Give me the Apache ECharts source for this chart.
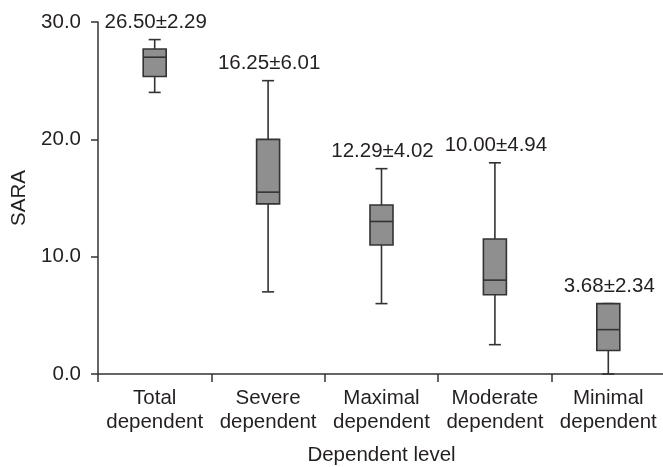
<!DOCTYPE html>
<html>
<head>
<meta charset="utf-8">
<script src="https://cdn.jsdelivr.net/npm/echarts@6/dist/echarts.min.js"></script>
<style>
html,body{margin:0;padding:0;background:#fff;}
#chart{width:663px;height:467px;}
</style>
</head>
<body>
<div id="chart"></div>
<script>
var categories = ['Total\ndependent', 'Severe\ndependent', 'Maximal\ndependent', 'Moderate\ndependent', 'Minimal\ndependent'];
var whiskerLow  = [24.0, 7.0, 6.0, 2.5, 0.0];
var q1          = [25.35, 14.5, 11.0, 6.75, 2.0];
var median      = [27.0, 15.5, 13.0, 8.0, 3.78];
var q3          = [27.7, 20.0, 14.4, 11.5, 6.0];
var whiskerHigh = [28.5, 25.0, 17.5, 18.0, 6.0];
var meanSdLabels = ['26.50\u00b12.29', '16.25\u00b16.01', '12.29\u00b14.02', '10.00\u00b14.94', '3.68\u00b12.34'];
var yTicks = [0, 10, 20, 30];

var seriesData = categories.map(function (c, i) {
  return [i, whiskerLow[i], q1[i], median[i], q3[i], whiskerHigh[i]];
});

var TXT = '#231f20';
var LINE = '#333333';
var FONT = '"Liberation Sans", Arial, sans-serif';
var FS = 20.5;

var chart = echarts.init(document.getElementById('chart'));
chart.setOption({
  animation: false,
  textStyle: { fontFamily: FONT },
  grid: { left: 98, top: 22, width: 567, height: 352, containLabel: false, outerBoundsMode: 'none' },
  xAxis: {
    type: 'category',
    data: categories,
    boundaryGap: true,
    name: 'Dependent level',
    nameLocation: 'middle',
    nameGap: 71,
    nameTextStyle: { fontSize: FS, color: TXT, fontFamily: FONT },
    axisLine: { lineStyle: { color: LINE, width: 1.5 } },
    axisTick: { show: true, length: 8, alignWithLabel: false, lineStyle: { color: LINE, width: 1.5 } },
    axisLabel: { fontSize: FS, color: TXT, lineHeight: 24, margin: 12, interval: 0, fontFamily: FONT },
    splitLine: { show: false }
  },
  yAxis: {
    type: 'value',
    min: yTicks[0],
    max: yTicks[yTicks.length - 1],
    interval: 10,
    name: 'SARA',
    nameLocation: 'middle',
    nameGap: 68,
    nameRotate: 90,
    nameTextStyle: { fontSize: FS, color: TXT, fontFamily: FONT },
    axisLine: { show: true, lineStyle: { color: LINE, width: 1.5 } },
    axisTick: { show: true, length: 7, lineStyle: { color: LINE, width: 1.5 } },
    axisLabel: { fontSize: FS, color: TXT, margin: 17, fontFamily: FONT,
      formatter: function (v) { return v.toFixed(1); } },
    splitLine: { show: false }
  },
  series: [{
    type: 'custom',
    data: seriesData,
    encode: { x: 0, y: [1, 2, 3, 4, 5] },
    clip: false,
    renderItem: function (params, api) {
      var i = api.value(0);
      var pLow = api.coord([i, api.value(1)]);
      var pQ1 = api.coord([i, api.value(2)]);
      var pMed = api.coord([i, api.value(3)]);
      var pQ3 = api.coord([i, api.value(4)]);
      var pHigh = api.coord([i, api.value(5)]);
      var x = pMed[0];
      var bw = 23, cw = 12;
      var st = { stroke: LINE, lineWidth: 1.6, fill: null };
      var children = [
        { type: 'line', shape: { x1: x, y1: pQ3[1], x2: x, y2: pHigh[1] }, style: st },
        { type: 'line', shape: { x1: x, y1: pQ1[1], x2: x, y2: pLow[1] }, style: st },
        { type: 'line', shape: { x1: x - cw / 2, y1: pHigh[1], x2: x + cw / 2, y2: pHigh[1] }, style: st },
        { type: 'line', shape: { x1: x - cw / 2, y1: pLow[1], x2: x + cw / 2, y2: pLow[1] }, style: st },
        { type: 'rect', shape: { x: x - bw / 2, y: pQ3[1], width: bw, height: pQ1[1] - pQ3[1] },
          style: { fill: '#8f8f8f', stroke: LINE, lineWidth: 1.6 } },
        { type: 'line', shape: { x1: x - bw / 2, y1: pMed[1], x2: x + bw / 2, y2: pMed[1] }, style: st },
        { type: 'text', x: x + 1, y: pHigh[1] - 17,
          style: { text: meanSdLabels[i], fill: TXT, font: FS + 'px ' + FONT, align: 'center', verticalAlign: 'middle' } }
      ];
      return { type: 'group', children: children };
    }
  }]
});
</script>
</body>
</html>
